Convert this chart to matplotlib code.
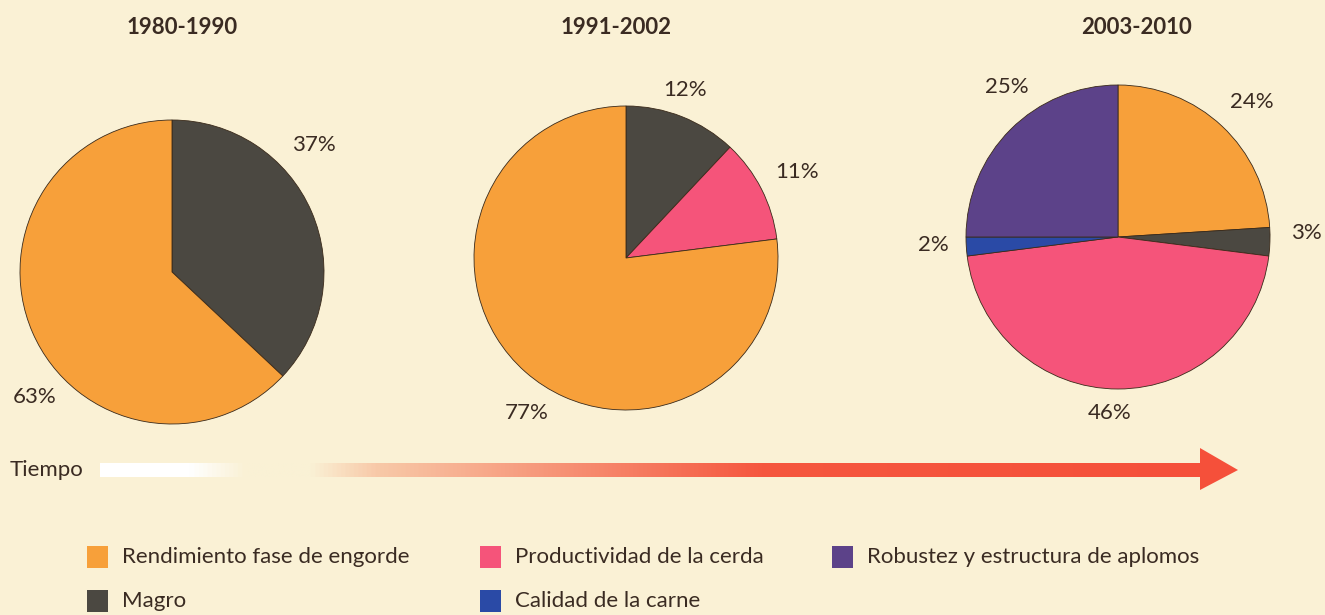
import matplotlib.pyplot as plt
import numpy as np
from matplotlib.colors import LinearSegmentedColormap
from matplotlib.patches import Polygon, Rectangle

# Datos
periodos = ['1980-1990', '1991-2002', '2003-2010']
categorias = ['Rendimiento fase de engorde', 'Magro', 'Productividad de la cerda',
              'Calidad de la carne', 'Robustez y estructura de aplomos']
colores = {'Rendimiento fase de engorde': '#F7A03A',
           'Magro': '#4B4841',
           'Productividad de la cerda': '#F5547A',
           'Calidad de la carne': '#2A4AA6',
           'Robustez y estructura de aplomos': '#5C4289'}

# porciones en sentido horario desde las 12
cats_1 = ['Magro', 'Rendimiento fase de engorde']
vals_1 = [37, 63]
cats_2 = ['Magro', 'Productividad de la cerda', 'Rendimiento fase de engorde']
vals_2 = [12, 11, 77]
cats_3 = ['Rendimiento fase de engorde', 'Magro', 'Productividad de la cerda',
          'Calidad de la carne', 'Robustez y estructura de aplomos']
vals_3 = [24, 3, 46, 2, 25]

fondo = '#FAF1D5'
texto = '#3A2B22'
plt.rcParams['font.family'] = ['Lato', 'DejaVu Sans']

fig = plt.figure(figsize=(13.25, 6.15), dpi=100, facecolor=fondo)
ax = fig.add_axes([0, 0, 1, 1])
ax.set_facecolor(fondo)

H = 615
centros = [(172, H - 272), (626, H - 258), (1118, H - 237)]
radio = 152
tit_x = [182, 616, 1137]
# posiciones de etiquetas (pixeles, y desde arriba)
etiquetas_pos = [
    [(314, 145), (35, 397)],
    [(685, 90), (797, 172), (527, 413)],
    [(1252, 102), (1306, 233), (1110, 413), (933, 245), (1007, 87)],
]

for i, (cats, vals) in enumerate([(cats_1, vals_1), (cats_2, vals_2), (cats_3, vals_3)]):
    ax.pie(vals, colors=[colores[c] for c in cats], startangle=90, counterclock=False,
           center=centros[i], radius=radio, frame=True,
           wedgeprops=dict(edgecolor='#3a2a1a', linewidth=0.6))
    for v, (px, py) in zip(vals, etiquetas_pos[i]):
        ax.text(px, H - py, f'{v}%', ha='center', va='center', fontsize=16, color=texto)
    ax.text(tit_x[i], H - 27, periodos[i], ha='center', va='center', fontsize=16,
            fontweight='bold', color=texto)

# flecha de tiempo con degradado
ax.text(10, H - 470, 'Tiempo', ha='left', va='center', fontsize=16, color=texto)
cmap = LinearSegmentedColormap.from_list('t', [(0, '#FFFFFF'), (0.08, '#FFFFFF'),
                                              (0.13, fondo), (0.19, fondo),
                                              (0.25, '#F8C9A8'), (0.6, '#F5573F'),
                                              (1, '#F5503A')])
grad = np.linspace(0, 1, 512).reshape(1, -1)
ax.imshow(grad, cmap=cmap, extent=[100, 1202, H - 477, H - 463], aspect='auto', zorder=2)
ax.add_patch(Polygon([(1200, H - 448), (1238, H - 470), (1200, H - 490)],
                     closed=True, facecolor='#F5503A', edgecolor='none', zorder=2))

# leyenda
leyenda_pos = [(87, 557), (87, 601), (480, 557), (480, 601), (832, 557)]
for cat, (lx, ly) in zip(categorias, leyenda_pos):
    ax.add_patch(Rectangle((lx, H - ly - 11), 21, 22, facecolor=colores[cat],
                           edgecolor='none'))
    ax.text(lx + 35, H - ly, cat, ha='left', va='center', fontsize=16, color=texto)

ax.set_xlim(0, 1325)
ax.set_ylim(0, H)
ax.set_aspect('auto')
ax.axis('off')

plt.savefig('out.png', dpi=100, facecolor=fondo)
plt.close()
